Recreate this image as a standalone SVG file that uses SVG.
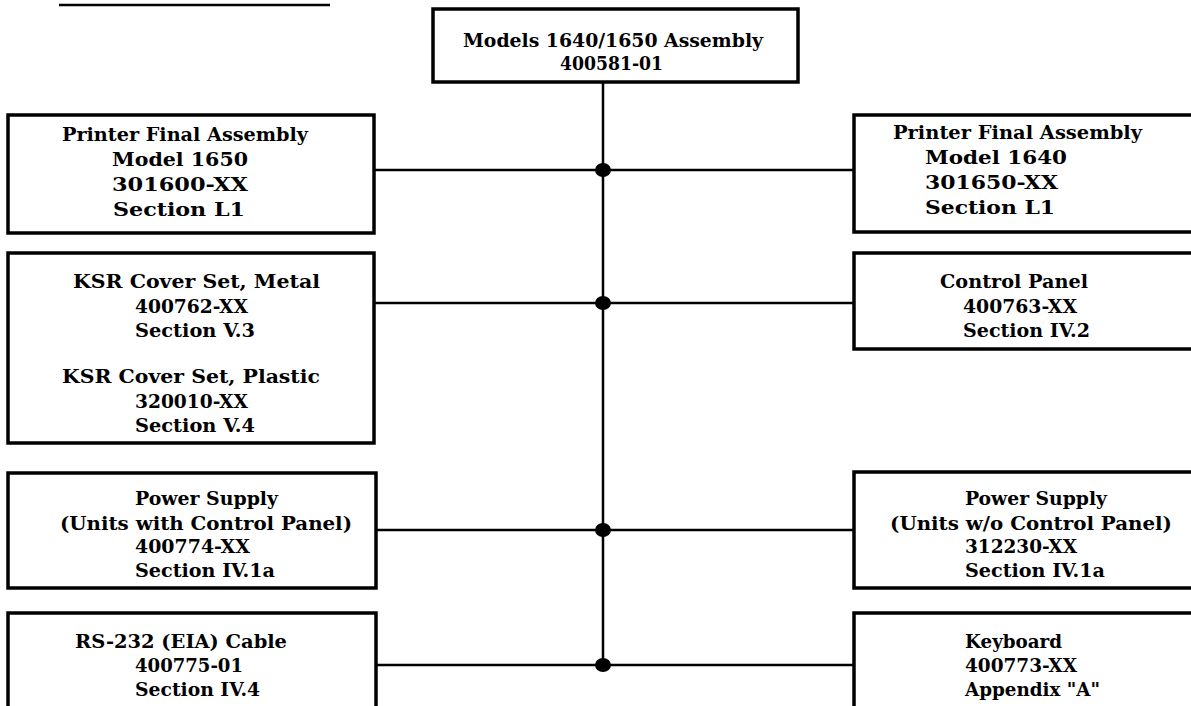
<svg xmlns="http://www.w3.org/2000/svg" width="1191" height="706" viewBox="0 0 1191 706">
<style>
.box{fill:#fff;stroke:#000;stroke-width:3.5}
.conn{stroke:#000;stroke-width:2.5;fill:none}
.dot{fill:#000}
text{font-family:"DejaVu Serif","Liberation Serif",serif;font-weight:bold;font-size:18px;fill:#000}
</style>
<rect width="1191" height="706" fill="#fff"/>
<line x1="59" y1="5" x2="330" y2="5" stroke="#000" stroke-width="2.5"/>
<g id="connectors">
<line class="conn" x1="603" y1="82" x2="603" y2="665"/>
<line class="conn" x1="375" y1="170" x2="854" y2="170"/>
<line class="conn" x1="375" y1="303" x2="854" y2="303"/>
<line class="conn" x1="376" y1="530" x2="854" y2="530"/>
<line class="conn" x1="376" y1="665" x2="854" y2="665"/>
<ellipse class="dot" cx="603" cy="170" rx="8" ry="7"/>
<ellipse class="dot" cx="603" cy="303" rx="8" ry="7"/>
<ellipse class="dot" cx="603" cy="530" rx="8" ry="7"/>
<ellipse class="dot" cx="603" cy="665" rx="8" ry="7"/>
</g>
<g id="top">
<rect class="box" x="433" y="9" width="365" height="73"/>
<text x="463" y="47" textLength="300" lengthAdjust="spacingAndGlyphs">Models 1640/1650 Assembly</text>
<text x="560" y="70" textLength="103" lengthAdjust="spacingAndGlyphs">400581-01</text>
</g>
<g id="printer1650">
<rect class="box" x="8" y="115" width="366" height="118"/>
<text x="62" y="141" textLength="246" lengthAdjust="spacingAndGlyphs">Printer Final Assembly</text>
<text x="112" y="166" textLength="136" lengthAdjust="spacingAndGlyphs">Model 1650</text>
<text x="112" y="191" textLength="136" lengthAdjust="spacingAndGlyphs">301600-XX</text>
<text x="113" y="216" textLength="132" lengthAdjust="spacingAndGlyphs">Section L1</text>
</g>
<g id="printer1640">
<rect class="box" x="854" y="115" width="350" height="117"/>
<text x="893" y="139" textLength="249" lengthAdjust="spacingAndGlyphs">Printer Final Assembly</text>
<text x="925" y="164" textLength="142" lengthAdjust="spacingAndGlyphs">Model 1640</text>
<text x="925" y="189" textLength="133" lengthAdjust="spacingAndGlyphs">301650-XX</text>
<text x="925" y="214" textLength="130" lengthAdjust="spacingAndGlyphs">Section L1</text>
</g>
<g id="coverset">
<rect class="box" x="8" y="253" width="366" height="190"/>
<text x="73" y="288" textLength="247" lengthAdjust="spacingAndGlyphs">KSR Cover Set, Metal</text>
<text x="135" y="313" textLength="113" lengthAdjust="spacingAndGlyphs">400762-XX</text>
<text x="135" y="337" textLength="120" lengthAdjust="spacingAndGlyphs">Section V.3</text>
<text x="62" y="383" textLength="258" lengthAdjust="spacingAndGlyphs">KSR Cover Set, Plastic</text>
<text x="135" y="408" textLength="113" lengthAdjust="spacingAndGlyphs">320010-XX</text>
<text x="135" y="432" textLength="120" lengthAdjust="spacingAndGlyphs">Section V.4</text>
</g>
<g id="controlpanel">
<rect class="box" x="854" y="253" width="350" height="96"/>
<text x="940" y="288" textLength="148" lengthAdjust="spacingAndGlyphs">Control Panel</text>
<text x="963" y="313" textLength="114" lengthAdjust="spacingAndGlyphs">400763-XX</text>
<text x="963" y="337" textLength="127" lengthAdjust="spacingAndGlyphs">Section IV.2</text>
</g>
<g id="power1">
<rect class="box" x="8" y="473" width="368" height="115"/>
<text x="135" y="505" textLength="143" lengthAdjust="spacingAndGlyphs">Power Supply</text>
<text x="60" y="530" textLength="292" lengthAdjust="spacingAndGlyphs">(Units with Control Panel)</text>
<text x="135" y="553" textLength="115" lengthAdjust="spacingAndGlyphs">400774-XX</text>
<text x="135" y="577" textLength="140" lengthAdjust="spacingAndGlyphs">Section IV.1a</text>
</g>
<g id="power2">
<rect class="box" x="854" y="472" width="350" height="116"/>
<text x="965" y="505" textLength="142" lengthAdjust="spacingAndGlyphs">Power Supply</text>
<text x="890" y="530" textLength="282" lengthAdjust="spacingAndGlyphs">(Units w/o Control Panel)</text>
<text x="965" y="553" textLength="112" lengthAdjust="spacingAndGlyphs">312230-XX</text>
<text x="965" y="577" textLength="140" lengthAdjust="spacingAndGlyphs">Section IV.1a</text>
</g>
<g id="cable">
<rect class="box" x="8" y="613" width="368" height="110"/>
<text x="75" y="648" textLength="212" lengthAdjust="spacingAndGlyphs">RS-232 (EIA) Cable</text>
<text x="135" y="672" textLength="108" lengthAdjust="spacingAndGlyphs">400775-01</text>
<text x="135" y="696" textLength="125" lengthAdjust="spacingAndGlyphs">Section IV.4</text>
</g>
<g id="keyboard">
<rect class="box" x="854" y="613" width="350" height="110"/>
<text x="965" y="648" textLength="97" lengthAdjust="spacingAndGlyphs">Keyboard</text>
<text x="965" y="672" textLength="112" lengthAdjust="spacingAndGlyphs">400773-XX</text>
<text x="965" y="696" textLength="135" lengthAdjust="spacingAndGlyphs">Appendix "A"</text>
</g>
</svg>
